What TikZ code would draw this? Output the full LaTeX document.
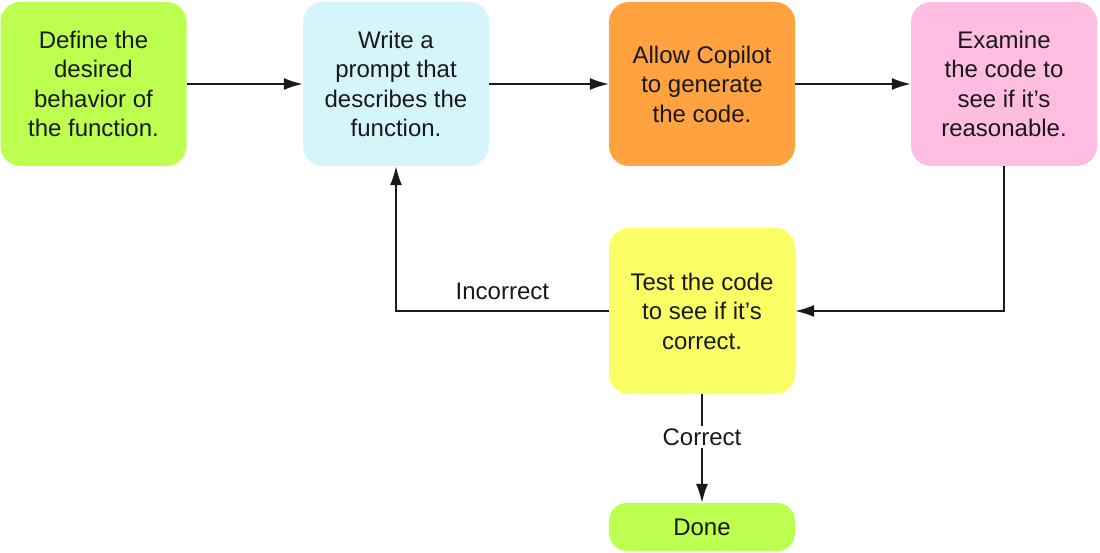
\documentclass[tikz,border=0pt]{standalone}
\usepackage{fontspec}
\setmainfont{Liberation Sans}
\usetikzlibrary{arrows.meta}
\definecolor{cgreen}{HTML}{BCFF4E}
\definecolor{ccyan}{HTML}{D4F6FA}
\definecolor{corange}{HTML}{FFA23F}
\definecolor{cpink}{HTML}{FFBDE1}
\definecolor{cyellow}{HTML}{FAFF66}
\begin{document}
\begin{tikzpicture}[x=1pt,y=-1pt,
  stepbox/.style={rounded corners=20pt, minimum width=186pt, minimum height=164pt, align=center, inner sep=0pt, font=\fontsize{24}{29.5}\selectfont, text=black!90},
  conn/.style={draw=black!90, line width=1.6pt, -{Latex[length=19pt,width=12pt]}},
  lab/.style={font=\fontsize{24}{28}\selectfont, text=black!90}]
\useasboundingbox (0,0) rectangle (1100,553);
\node[stepbox, fill=cgreen] (a) at (93.5,84) {Define the\\desired\\behavior of\\the function.};
\node[stepbox, fill=ccyan] (b) at (396,84) {Write a\\prompt that\\describes the\\function.};
\node[stepbox, fill=corange] (c) at (702,84) {Allow Copilot\\to generate\\the code.};
\node[stepbox, fill=cpink] (d) at (1004,84) {Examine\\the code to\\see if it’s\\reasonable.};
\node[stepbox, fill=cyellow, minimum height=166pt] (t) at (702,311) {Test the code\\to see if it’s\\correct.};
\node[stepbox, fill=cgreen, minimum height=48pt, rounded corners=18pt] (e) at (702,527) {Done};
\draw[conn] (a.east) -- (b.west);
\draw[conn] (b.east) -- (c.west);
\draw[conn] (c.east) -- (d.west);
\draw[conn] (d.south) |- (t.east);
\draw[conn] (t.west) -| (b.south) node[lab, pos=0.25, above=7pt] {Incorrect};
\node[lab, fill=white, inner sep=2pt] (cl) at (702,437) {Correct};
\draw[draw=black!90, line width=1.6pt] (t.south) -- (cl.north);
\draw[conn] (cl.south) -- (e.north);
\end{tikzpicture}
\end{document}
